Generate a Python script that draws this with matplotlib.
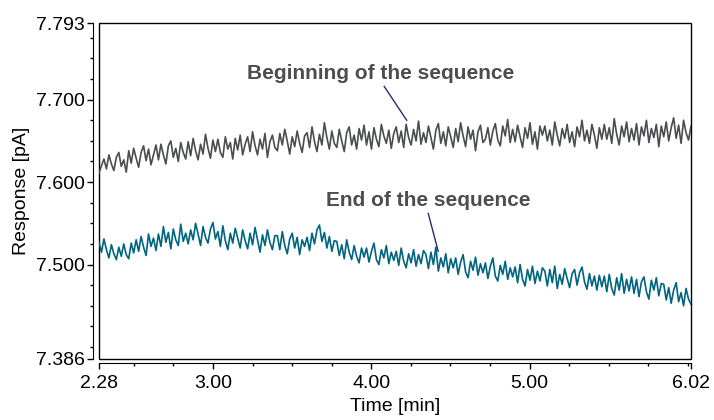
import numpy as np
import matplotlib
matplotlib.use("Agg")
import matplotlib.pyplot as plt
from matplotlib.patches import Rectangle

plt.rcParams["font.family"] = ["Liberation Sans", "DejaVu Sans"]

# time axis [min], evenly sampled between the run limits
T_START, T_END = 2.28, 6.02

# response [pA], beginning of the sequence
begin_resp = [
    7.611, 7.620, 7.628, 7.616, 7.633, 7.622, 7.614, 7.630, 7.636, 7.619, 7.627, 7.612,
    7.638, 7.623, 7.641, 7.629, 7.618, 7.636, 7.644, 7.626, 7.640, 7.621, 7.633, 7.645,
    7.627, 7.646, 7.633, 7.622, 7.644, 7.650, 7.630, 7.641, 7.625, 7.648, 7.636, 7.628,
    7.649, 7.632, 7.653, 7.638, 7.627, 7.646, 7.634, 7.658, 7.641, 7.629, 7.651, 7.637,
    7.652, 7.636, 7.630, 7.655, 7.640, 7.648, 7.628, 7.653, 7.639, 7.657, 7.633, 7.646,
    7.655, 7.637, 7.661, 7.644, 7.633, 7.652, 7.640, 7.659, 7.630, 7.649, 7.657, 7.642,
    7.638, 7.659, 7.645, 7.664, 7.650, 7.634, 7.655, 7.643, 7.662, 7.647, 7.636, 7.656,
    7.660, 7.642, 7.667, 7.649, 7.637, 7.658, 7.645, 7.672, 7.654, 7.640, 7.662, 7.647,
    7.642, 7.664, 7.650, 7.637, 7.660, 7.667, 7.645, 7.657, 7.640, 7.665, 7.651, 7.669,
    7.645, 7.661, 7.640, 7.666, 7.652, 7.643, 7.670, 7.656, 7.647, 7.663, 7.641, 7.659,
    7.667, 7.648, 7.662, 7.642, 7.670, 7.654, 7.645, 7.664, 7.650, 7.674, 7.646, 7.660,
    7.648, 7.668, 7.654, 7.640, 7.663, 7.671, 7.647, 7.661, 7.644, 7.667, 7.655, 7.642,
    7.665, 7.649, 7.672, 7.656, 7.643, 7.667, 7.652, 7.663, 7.638, 7.661, 7.669, 7.648,
    7.652, 7.666, 7.645, 7.662, 7.671, 7.651, 7.644, 7.668, 7.656, 7.676, 7.648, 7.664,
    7.649, 7.669, 7.655, 7.642, 7.666, 7.653, 7.672, 7.646, 7.661, 7.640, 7.668, 7.657,
    7.668, 7.650, 7.663, 7.645, 7.673, 7.657, 7.644, 7.665, 7.653, 7.670, 7.648, 7.661,
    7.643, 7.667, 7.655, 7.675, 7.650, 7.663, 7.647, 7.670, 7.657, 7.641, 7.666, 7.652,
    7.670, 7.652, 7.666, 7.647, 7.677, 7.658, 7.645, 7.668, 7.655, 7.673, 7.649, 7.665,
    7.651, 7.671, 7.645, 7.667, 7.656, 7.675, 7.648, 7.665, 7.654, 7.670, 7.643, 7.668,
    7.655, 7.673, 7.650, 7.666, 7.678, 7.653, 7.669, 7.647, 7.675, 7.660, 7.651, 7.668,
]

# response [pA], end of the sequence
end_resp = [
    7.527, 7.515, 7.531, 7.518, 7.508, 7.524, 7.513, 7.506, 7.521, 7.510, 7.525, 7.512,
    7.507, 7.526, 7.514, 7.530, 7.516, 7.534, 7.521, 7.511, 7.537, 7.522, 7.532, 7.517,
    7.537, 7.522, 7.546, 7.527, 7.539, 7.519, 7.543, 7.530, 7.523, 7.549, 7.528, 7.538,
    7.525, 7.542, 7.530, 7.550, 7.537, 7.523, 7.546, 7.533, 7.526, 7.543, 7.551, 7.531,
    7.540, 7.522, 7.547, 7.529, 7.518, 7.538, 7.526, 7.544, 7.532, 7.520, 7.542, 7.529,
    7.519, 7.538, 7.524, 7.545, 7.530, 7.515, 7.536, 7.523, 7.542, 7.527, 7.518, 7.535,
    7.535, 7.518, 7.540, 7.523, 7.513, 7.531, 7.538, 7.520, 7.533, 7.512, 7.530, 7.522,
    7.533, 7.517, 7.538, 7.525, 7.542, 7.548, 7.528, 7.539, 7.520, 7.534, 7.516, 7.529,
    7.528, 7.511, 7.524, 7.507, 7.530, 7.515, 7.506, 7.523, 7.510, 7.502, 7.520, 7.509,
    7.520, 7.503, 7.516, 7.526, 7.506, 7.500, 7.518, 7.508, 7.523, 7.501, 7.515, 7.505,
    7.516, 7.499, 7.520, 7.504, 7.496, 7.513, 7.502, 7.518, 7.498, 7.512, 7.501, 7.517,
    7.512, 7.495, 7.515, 7.500, 7.521, 7.492, 7.508, 7.497, 7.513, 7.490, 7.507, 7.496,
    7.508, 7.488, 7.503, 7.512, 7.491, 7.484, 7.504, 7.493, 7.509, 7.487, 7.501, 7.490,
    7.502, 7.483, 7.498, 7.508, 7.486, 7.480, 7.499, 7.488, 7.504, 7.482, 7.496, 7.485,
    7.497, 7.478, 7.500, 7.482, 7.474, 7.494, 7.481, 7.498, 7.477, 7.492, 7.480, 7.496,
    7.492, 7.474, 7.494, 7.478, 7.498, 7.471, 7.488, 7.476, 7.495, 7.483, 7.472, 7.489,
    7.494, 7.475, 7.490, 7.497, 7.479, 7.470, 7.489, 7.474, 7.486, 7.469, 7.487, 7.473,
    7.486, 7.467, 7.488, 7.471, 7.463, 7.484, 7.469, 7.489, 7.465, 7.482, 7.468, 7.485,
    7.465, 7.482, 7.461, 7.479, 7.485, 7.467, 7.458, 7.481, 7.469, 7.484, 7.462, 7.477,
    7.476, 7.457, 7.472, 7.453, 7.469, 7.478, 7.455, 7.466, 7.450, 7.471, 7.458, 7.452,
]

x_ticks = [2.28, 3.00, 4.00, 5.00, 6.02]
x_labels = ["2.28", "3.00", "4.00", "5.00", "6.02"]
y_ticks = [7.386, 7.500, 7.600, 7.700, 7.793]
y_labels = ["7.386", "7.500", "7.600", "7.700", "7.793"]

# annotation texts and pointer lines (data coords)
begin_label = ("Beginning of the sequence", 4.061, 7.732)
begin_ptr = ([4.082, 4.224], [7.716, 7.675])
end_label = ("End of the sequence", 4.358, 7.578)
end_ptr = ([4.360, 4.423], [7.562, 7.516])

GREY = "#4b4d50"
TEAL = "#00657f"
TEXT = "#4d4d4d"
PTR = "#2c2a6a"

W, H = 714, 420
fig = plt.figure(figsize=(W / 100, H / 100), dpi=100)
ax = fig.add_axes([99 / W, 1 - 358.5 / H, 592 / W, 335.5 / H])

t = np.linspace(T_START, T_END, len(begin_resp))
ax.plot(t, begin_resp, color=GREY, lw=1.2)
ax.plot(t, end_resp, color=TEAL, lw=1.2)

for (txt, x, y), (px, py) in [(begin_label, begin_ptr), (end_label, end_ptr)]:
    ax.text(x, y, txt, ha="center", va="center", fontsize=15,
            fontweight="bold", color=TEXT)
    ax.plot(px, py, color=PTR, lw=1.0)

ax.set_xlim(T_START, T_END)
ax.set_ylim(7.386, 7.793)

# closed frame around the data, detached axis lines outside it
for side in ["top", "right"]:
    ax.spines[side].set_visible(False)
ax.spines["left"].set_position(("outward", 4.3))
ax.spines["bottom"].set_position(("outward", 2.9))
ax.add_patch(Rectangle((0, 0), 1, 1, transform=ax.transAxes, fill=False,
                       edgecolor="black", lw=1.0, clip_on=False))

ax.set_xticks(x_ticks)
ax.set_xticklabels(x_labels)
ax.set_xticks(np.arange(2.5, 6.01, 0.25), minor=True)
ax.set_yticks(y_ticks)
ax.set_yticklabels(y_labels)
ax.set_yticks(np.arange(7.4, 7.78, 0.025), minor=True)
ax.tick_params(which="major", length=4, width=1.0, labelsize=14, pad=2)
ax.tick_params(axis="x", which="major", pad=5)
ax.tick_params(which="minor", length=2.5, width=1.0)

ax.set_xlabel("Time [min]", fontsize=14, labelpad=4)
ax.set_ylabel("Response [pA]", fontsize=14, labelpad=4)

fig.savefig("out.png", dpi=100)
